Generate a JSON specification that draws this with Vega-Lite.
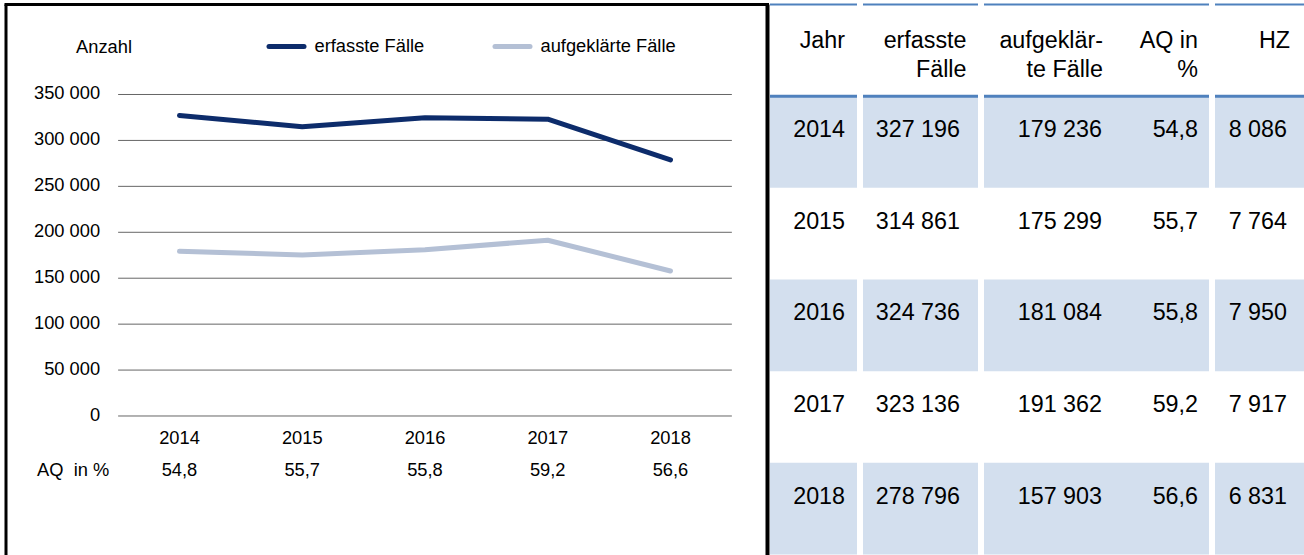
{
  "$schema": "https://vega.github.io/schema/vega-lite/v6.json",
  "padding": {"left": 3, "top": 1.5, "right": 0, "bottom": 0},
  "autosize": {"type": "pad"},
  "background": "white",
  "bounds": "flush",
  "spacing": 2,
  "config": {
    "view": {"stroke": null},
    "axis": {"disable": true},
    "locale": {"number": {"decimal": ",", "thousands": " ", "grouping": [3], "currency": ["", " €"]}},
    "text": {"font": "Liberation Sans", "color": "#000000"},
    "legend": {"labelFont": "Liberation Sans"}
  },
  "datasets": {
    "raster": [{"wert": 0}, {"wert": 50000}, {"wert": 100000}, {"wert": 150000}, {"wert": 200000}, {"wert": 250000}, {"wert": 300000}, {"wert": 350000}],
    "reihen": [
      {"Jahr": 2014, "Reihe": "erfasste Fälle", "Anzahl": 327196},
      {"Jahr": 2015, "Reihe": "erfasste Fälle", "Anzahl": 314861},
      {"Jahr": 2016, "Reihe": "erfasste Fälle", "Anzahl": 324736},
      {"Jahr": 2017, "Reihe": "erfasste Fälle", "Anzahl": 323136},
      {"Jahr": 2018, "Reihe": "erfasste Fälle", "Anzahl": 278796},
      {"Jahr": 2014, "Reihe": "aufgeklärte Fälle", "Anzahl": 179236},
      {"Jahr": 2015, "Reihe": "aufgeklärte Fälle", "Anzahl": 175299},
      {"Jahr": 2016, "Reihe": "aufgeklärte Fälle", "Anzahl": 181084},
      {"Jahr": 2017, "Reihe": "aufgeklärte Fälle", "Anzahl": 191362},
      {"Jahr": 2018, "Reihe": "aufgeklärte Fälle", "Anzahl": 157903}
    ],
    "aq": [
      {"Jahr": 2014, "AQ": 54.8},
      {"Jahr": 2015, "AQ": 55.7},
      {"Jahr": 2016, "AQ": 55.8},
      {"Jahr": 2017, "AQ": 59.2},
      {"Jahr": 2018, "AQ": 56.6}
    ],
    "tabelle": [
      {"Jahr": "2014", "erfasst": 327196, "aufgeklaert": 179236, "AQ": 54.8, "HZ": 8086},
      {"Jahr": "2015", "erfasst": 314861, "aufgeklaert": 175299, "AQ": 55.7, "HZ": 7764},
      {"Jahr": "2016", "erfasst": 324736, "aufgeklaert": 181084, "AQ": 55.8, "HZ": 7950},
      {"Jahr": "2017", "erfasst": 323136, "aufgeklaert": 191362, "AQ": 59.2, "HZ": 7917},
      {"Jahr": "2018", "erfasst": 278796, "aufgeklaert": 157903, "AQ": 56.6, "HZ": 6831}
    ],
    "kopf": [
      {"Jahr": "Kopf", "Spalte": "Jahr", "Titel": "Jahr"},
      {"Jahr": "Kopf", "Spalte": "erfasst", "Titel": "erfasste\nFälle"},
      {"Jahr": "Kopf", "Spalte": "aufgeklaert", "Titel": "aufgeklär-\nte Fälle"},
      {"Jahr": "Kopf", "Spalte": "AQ", "Titel": "AQ in\n%"},
      {"Jahr": "Kopf", "Spalte": "HZ", "Titel": "HZ"}
    ]
  },
  "hconcat": [
    {
      "width": 761.5,
      "height": 552,
      "layer": [
        {"data": {"values": [{}]}, "mark": {"type": "rule", "color": "#000000", "strokeWidth": 3}, "encoding": {"x": {"value": 0}, "y": {"value": 0}, "y2": {"value": "height"}}},
        {"data": {"values": [{}]}, "mark": {"type": "rule", "color": "#000000", "strokeWidth": 3, "strokeCap": "square"}, "encoding": {"x": {"value": 0}, "x2": {"value": "width"}, "y": {"value": 0}}},
        {"data": {"values": [{}]}, "mark": {"type": "rule", "color": "#000000", "strokeWidth": 4}, "encoding": {"x": {"value": "width"}, "y": {"value": 0}, "y2": {"value": "height"}}},
        {
          "data": {"name": "raster"},
          "mark": {"type": "rule", "color": "#666666", "strokeWidth": 1},
          "encoding": {
            "x": {"datum": 2013.5, "type": "quantitative", "scale": {"domain": [2012.5866, 2018.7903], "nice": false, "zero": false}, "axis": null},
            "x2": {"datum": 2018.5},
            "y": {"field": "wert", "type": "quantitative", "scale": {"domain": [-152955, 447978], "nice": false, "zero": false}, "axis": null}
          }
        },
        {
          "data": {"name": "raster"},
          "mark": {"type": "text", "align": "right", "baseline": "middle", "dx": -18, "fontSize": 18.3},
          "encoding": {
            "x": {"datum": 2013.5, "type": "quantitative", "scale": {"domain": [2012.5866, 2018.7903], "nice": false, "zero": false}, "axis": null},
            "y": {"field": "wert", "type": "quantitative", "scale": {"domain": [-152955, 447978], "nice": false, "zero": false}, "axis": null},
            "text": {"field": "wert", "type": "quantitative", "format": ",d"}
          }
        },
        {
          "data": {"name": "reihen"},
          "mark": {"type": "line", "strokeWidth": 5, "strokeCap": "round", "strokeJoin": "round"},
          "encoding": {
            "x": {"field": "Jahr", "type": "quantitative", "scale": {"domain": [2012.5866, 2018.7903], "nice": false, "zero": false}, "axis": null},
            "y": {"field": "Anzahl", "type": "quantitative", "scale": {"domain": [-152955, 447978], "nice": false, "zero": false}, "axis": null},
            "color": {
              "field": "Reihe",
              "type": "nominal",
              "scale": {"domain": ["erfasste Fälle", "aufgeklärte Fälle"], "range": ["#0D2C6B", "#B4C0D5"]},
              "legend": {
                "orient": "none",
                "legendX": 260.5,
                "legendY": 22,
                "direction": "horizontal",
                "title": null,
                "symbolType": "stroke",
                "symbolSize": 1225,
                "symbolStrokeWidth": 5,
                "labelFontSize": 18.3,
                "labelOffset": 8,
                "labelColor": "#000000",
                "labelLimit": 400,
                "columnPadding": 60,
                "padding": 0,
                "encode": {"symbols": {"update": {"strokeCap": {"value": "round"}}}}
              }
            }
          }
        },
        {
          "data": {"name": "aq"},
          "mark": {"type": "text", "align": "center", "baseline": "alphabetic", "dy": 28.5, "fontSize": 18.3},
          "encoding": {
            "x": {"field": "Jahr", "type": "quantitative", "scale": {"domain": [2012.5866, 2018.7903], "nice": false, "zero": false}, "axis": null},
            "y": {"datum": 0, "type": "quantitative", "scale": {"domain": [-152955, 447978], "nice": false, "zero": false}, "axis": null},
            "text": {"field": "Jahr", "type": "nominal"}
          }
        },
        {
          "data": {"name": "aq"},
          "mark": {"type": "text", "align": "center", "baseline": "alphabetic", "dy": 60.5, "fontSize": 18.3},
          "encoding": {
            "x": {"field": "Jahr", "type": "quantitative", "scale": {"domain": [2012.5866, 2018.7903], "nice": false, "zero": false}, "axis": null},
            "y": {"datum": 0, "type": "quantitative", "scale": {"domain": [-152955, 447978], "nice": false, "zero": false}, "axis": null},
            "text": {"field": "AQ", "type": "quantitative", "format": ".1f"}
          }
        },
        {
          "data": {"values": [{"beschriftung": "AQ\u00a0 in %"}]},
          "mark": {"type": "text", "align": "left", "baseline": "alphabetic", "dx": -81, "dy": 60.5, "fontSize": 18.3},
          "encoding": {
            "x": {"datum": 2013.5, "type": "quantitative", "scale": {"domain": [2012.5866, 2018.7903], "nice": false, "zero": false}, "axis": null},
            "y": {"datum": 0, "type": "quantitative", "scale": {"domain": [-152955, 447978], "nice": false, "zero": false}, "axis": null},
            "text": {"field": "beschriftung", "type": "nominal"}
          }
        },
        {
          "data": {"values": [{"beschriftung": "Anzahl"}]},
          "mark": {"type": "text", "align": "left", "baseline": "alphabetic", "dx": -42, "dy": -41.7, "fontSize": 18.3},
          "encoding": {
            "x": {"datum": 2013.5, "type": "quantitative", "scale": {"domain": [2012.5866, 2018.7903], "nice": false, "zero": false}, "axis": null},
            "y": {"datum": 350000, "type": "quantitative", "scale": {"domain": [-152955, 447978], "nice": false, "zero": false}, "axis": null},
            "text": {"field": "beschriftung", "type": "nominal"}
          }
        }
      ]
    },
    {
      "spacing": 6,
      "bounds": "flush",
      "hconcat": [
        {
          "width": 87,
          "height": 550,
          "layer": [
            {"data": {"name": "tabelle"}, "transform": [{"filter": "datum.Jahr == '2014' || datum.Jahr == '2016' || datum.Jahr == '2018'"}], "mark": {"type": "rect", "color": "#D3DFEE"}, "encoding": {"x": {"value": 0}, "x2": {"value": "width"}, "y": {"field": "Jahr", "type": "nominal", "scale": {"domain": ["Kopf", "2014", "2015", "2016", "2017", "2018"], "paddingInner": 0, "paddingOuter": 0}, "axis": null}}},
            {"data": {"values": [{}]}, "mark": {"type": "rule", "color": "#4F81BD", "strokeWidth": 2}, "encoding": {"x": {"value": 0}, "x2": {"value": "width"}, "y": {"value": 0}}},
            {"data": {"name": "tabelle"}, "transform": [{"filter": "datum.Jahr == '2014'"}], "mark": {"type": "rule", "color": "#4F81BD", "strokeWidth": 3}, "encoding": {"x": {"value": 0}, "x2": {"value": "width"}, "y": {"field": "Jahr", "type": "nominal", "bandPosition": 0, "scale": {"domain": ["Kopf", "2014", "2015", "2016", "2017", "2018"], "paddingInner": 0, "paddingOuter": 0}, "axis": null}}},
            {"data": {"name": "kopf"}, "transform": [{"filter": "datum.Spalte == 'Jahr'"}], "mark": {"type": "text", "align": "right", "baseline": "alphabetic", "dx": -12, "dy": -2, "fontSize": 23.3, "lineBreak": "\n", "lineHeight": 28.5}, "encoding": {"x": {"value": "width"}, "y": {"field": "Jahr", "type": "nominal", "scale": {"domain": ["Kopf", "2014", "2015", "2016", "2017", "2018"], "paddingInner": 0, "paddingOuter": 0}, "axis": null}, "text": {"field": "Titel", "type": "nominal"}}},
            {"data": {"name": "tabelle"}, "mark": {"type": "text", "align": "right", "baseline": "alphabetic", "dx": -12, "dy": -5, "fontSize": 23.3}, "encoding": {"x": {"value": "width"}, "y": {"field": "Jahr", "type": "nominal", "scale": {"domain": ["Kopf", "2014", "2015", "2016", "2017", "2018"], "paddingInner": 0, "paddingOuter": 0}, "axis": null}, "text": {"field": "Jahr", "type": "nominal"}}}
          ]
        },
        {
          "width": 115,
          "height": 550,
          "layer": [
            {"data": {"name": "tabelle"}, "transform": [{"filter": "datum.Jahr == '2014' || datum.Jahr == '2016' || datum.Jahr == '2018'"}], "mark": {"type": "rect", "color": "#D3DFEE"}, "encoding": {"x": {"value": 0}, "x2": {"value": "width"}, "y": {"field": "Jahr", "type": "nominal", "scale": {"domain": ["Kopf", "2014", "2015", "2016", "2017", "2018"], "paddingInner": 0, "paddingOuter": 0}, "axis": null}}},
            {"data": {"values": [{}]}, "mark": {"type": "rule", "color": "#4F81BD", "strokeWidth": 2}, "encoding": {"x": {"value": 0}, "x2": {"value": "width"}, "y": {"value": 0}}},
            {"data": {"name": "tabelle"}, "transform": [{"filter": "datum.Jahr == '2014'"}], "mark": {"type": "rule", "color": "#4F81BD", "strokeWidth": 3}, "encoding": {"x": {"value": 0}, "x2": {"value": "width"}, "y": {"field": "Jahr", "type": "nominal", "bandPosition": 0, "scale": {"domain": ["Kopf", "2014", "2015", "2016", "2017", "2018"], "paddingInner": 0, "paddingOuter": 0}, "axis": null}}},
            {"data": {"name": "kopf"}, "transform": [{"filter": "datum.Spalte == 'erfasst'"}], "mark": {"type": "text", "align": "right", "baseline": "alphabetic", "dx": -11.5, "dy": -2, "fontSize": 23.3, "lineBreak": "\n", "lineHeight": 28.5}, "encoding": {"x": {"value": "width"}, "y": {"field": "Jahr", "type": "nominal", "scale": {"domain": ["Kopf", "2014", "2015", "2016", "2017", "2018"], "paddingInner": 0, "paddingOuter": 0}, "axis": null}, "text": {"field": "Titel", "type": "nominal"}}},
            {"data": {"name": "tabelle"}, "mark": {"type": "text", "align": "right", "baseline": "alphabetic", "dx": -18, "dy": -5, "fontSize": 23.3}, "encoding": {"x": {"value": "width"}, "y": {"field": "Jahr", "type": "nominal", "scale": {"domain": ["Kopf", "2014", "2015", "2016", "2017", "2018"], "paddingInner": 0, "paddingOuter": 0}, "axis": null}, "text": {"field": "erfasst", "type": "quantitative", "format": ",d"}}}
          ]
        },
        {
          "width": 225,
          "height": 550,
          "layer": [
            {"data": {"name": "tabelle"}, "transform": [{"filter": "datum.Jahr == '2014' || datum.Jahr == '2016' || datum.Jahr == '2018'"}], "mark": {"type": "rect", "color": "#D3DFEE"}, "encoding": {"x": {"value": 0}, "x2": {"value": "width"}, "y": {"field": "Jahr", "type": "nominal", "scale": {"domain": ["Kopf", "2014", "2015", "2016", "2017", "2018"], "paddingInner": 0, "paddingOuter": 0}, "axis": null}}},
            {"data": {"values": [{}]}, "mark": {"type": "rule", "color": "#4F81BD", "strokeWidth": 2}, "encoding": {"x": {"value": 0}, "x2": {"value": "width"}, "y": {"value": 0}}},
            {"data": {"name": "tabelle"}, "transform": [{"filter": "datum.Jahr == '2014'"}], "mark": {"type": "rule", "color": "#4F81BD", "strokeWidth": 3}, "encoding": {"x": {"value": 0}, "x2": {"value": "width"}, "y": {"field": "Jahr", "type": "nominal", "bandPosition": 0, "scale": {"domain": ["Kopf", "2014", "2015", "2016", "2017", "2018"], "paddingInner": 0, "paddingOuter": 0}, "axis": null}}},
            {"data": {"name": "kopf"}, "transform": [{"filter": "datum.Spalte == 'aufgeklaert'"}], "mark": {"type": "text", "align": "right", "baseline": "alphabetic", "dx": -106, "dy": -2, "fontSize": 23.3, "lineBreak": "\n", "lineHeight": 28.5}, "encoding": {"x": {"value": "width"}, "y": {"field": "Jahr", "type": "nominal", "scale": {"domain": ["Kopf", "2014", "2015", "2016", "2017", "2018"], "paddingInner": 0, "paddingOuter": 0}, "axis": null}, "text": {"field": "Titel", "type": "nominal"}}},
            {"data": {"name": "kopf"}, "transform": [{"filter": "datum.Spalte == 'AQ'"}], "mark": {"type": "text", "align": "right", "baseline": "alphabetic", "dx": -11, "dy": -2, "fontSize": 23.3, "lineBreak": "\n", "lineHeight": 28.5}, "encoding": {"x": {"value": "width"}, "y": {"field": "Jahr", "type": "nominal", "scale": {"domain": ["Kopf", "2014", "2015", "2016", "2017", "2018"], "paddingInner": 0, "paddingOuter": 0}, "axis": null}, "text": {"field": "Titel", "type": "nominal"}}},
            {"data": {"name": "tabelle"}, "mark": {"type": "text", "align": "right", "baseline": "alphabetic", "dx": -107, "dy": -5, "fontSize": 23.3}, "encoding": {"x": {"value": "width"}, "y": {"field": "Jahr", "type": "nominal", "scale": {"domain": ["Kopf", "2014", "2015", "2016", "2017", "2018"], "paddingInner": 0, "paddingOuter": 0}, "axis": null}, "text": {"field": "aufgeklaert", "type": "quantitative", "format": ",d"}}},
            {"data": {"name": "tabelle"}, "mark": {"type": "text", "align": "right", "baseline": "alphabetic", "dx": -11, "dy": -5, "fontSize": 23.3}, "encoding": {"x": {"value": "width"}, "y": {"field": "Jahr", "type": "nominal", "scale": {"domain": ["Kopf", "2014", "2015", "2016", "2017", "2018"], "paddingInner": 0, "paddingOuter": 0}, "axis": null}, "text": {"field": "AQ", "type": "quantitative", "format": ".1f"}}}
          ]
        },
        {
          "width": 89,
          "height": 550,
          "layer": [
            {"data": {"name": "tabelle"}, "transform": [{"filter": "datum.Jahr == '2014' || datum.Jahr == '2016' || datum.Jahr == '2018'"}], "mark": {"type": "rect", "color": "#D3DFEE"}, "encoding": {"x": {"value": 0}, "x2": {"value": "width"}, "y": {"field": "Jahr", "type": "nominal", "scale": {"domain": ["Kopf", "2014", "2015", "2016", "2017", "2018"], "paddingInner": 0, "paddingOuter": 0}, "axis": null}}},
            {"data": {"values": [{}]}, "mark": {"type": "rule", "color": "#4F81BD", "strokeWidth": 2}, "encoding": {"x": {"value": 0}, "x2": {"value": "width"}, "y": {"value": 0}}},
            {"data": {"name": "tabelle"}, "transform": [{"filter": "datum.Jahr == '2014'"}], "mark": {"type": "rule", "color": "#4F81BD", "strokeWidth": 3}, "encoding": {"x": {"value": 0}, "x2": {"value": "width"}, "y": {"field": "Jahr", "type": "nominal", "bandPosition": 0, "scale": {"domain": ["Kopf", "2014", "2015", "2016", "2017", "2018"], "paddingInner": 0, "paddingOuter": 0}, "axis": null}}},
            {"data": {"name": "kopf"}, "transform": [{"filter": "datum.Spalte == 'HZ'"}], "mark": {"type": "text", "align": "right", "baseline": "alphabetic", "dx": -14, "dy": -2, "fontSize": 23.3, "lineBreak": "\n", "lineHeight": 28.5}, "encoding": {"x": {"value": "width"}, "y": {"field": "Jahr", "type": "nominal", "scale": {"domain": ["Kopf", "2014", "2015", "2016", "2017", "2018"], "paddingInner": 0, "paddingOuter": 0}, "axis": null}, "text": {"field": "Titel", "type": "nominal"}}},
            {"data": {"name": "tabelle"}, "mark": {"type": "text", "align": "right", "baseline": "alphabetic", "dx": -17, "dy": -5, "fontSize": 23.3}, "encoding": {"x": {"value": "width"}, "y": {"field": "Jahr", "type": "nominal", "scale": {"domain": ["Kopf", "2014", "2015", "2016", "2017", "2018"], "paddingInner": 0, "paddingOuter": 0}, "axis": null}, "text": {"field": "HZ", "type": "quantitative", "format": ",d"}}}
          ]
        }
      ]
    }
  ]
}
